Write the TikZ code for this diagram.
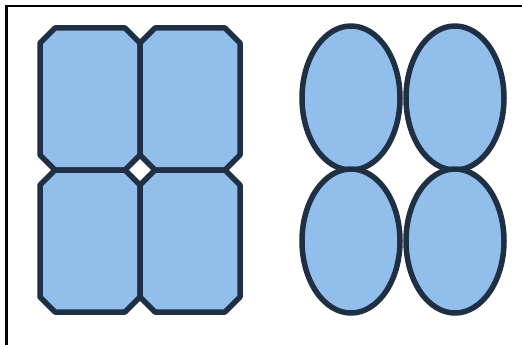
\documentclass[tikz,border=0pt]{standalone}
\usetikzlibrary{calc}
\definecolor{tilefill}{RGB}{146,190,236}
\definecolor{tileline}{RGB}{32,48,68}
\tikzset{
  tile/.style={fill=tilefill, draw=tileline, line width=5.5pt, line join=round},
  frameline/.style={draw=black, line width=2.6pt}
}
\begin{document}
\begin{tikzpicture}[x=1pt,y=-1pt]
\useasboundingbox (0,0) rectangle (522,345);
\fill[white] (0,0) rectangle (522,345);
% frame (top and left edges only)
\coordinate (ftl) at (6.5,6);
\coordinate (ftr) at (522,6);
\coordinate (fbl) at (6.5,345);
\draw[frameline] (ftr) -- (ftl) -- (fbl);
% octagonal tiles
\def\c{15}
\foreach \xa/\xb/\ya/\yb in {40/140/28/170, 140/240/28/170, 40/140/170/312, 140/240/170/312}{
  \draw[tile] (\xa+\c,\ya) -- (\xb-\c,\ya) -- (\xb,\ya+\c) -- (\xb,\yb-\c) -- (\xb-\c,\yb) -- (\xa+\c,\yb) -- (\xa,\yb-\c) -- (\xa,\ya+\c) -- cycle;
}
% elliptical tiles
\foreach \cx/\cy in {351/98, 455/98, 351/241, 455/241}{
  \draw[tile] (\cx,\cy) ellipse [x radius=49, y radius=72];
}
\end{tikzpicture}
\end{document}
